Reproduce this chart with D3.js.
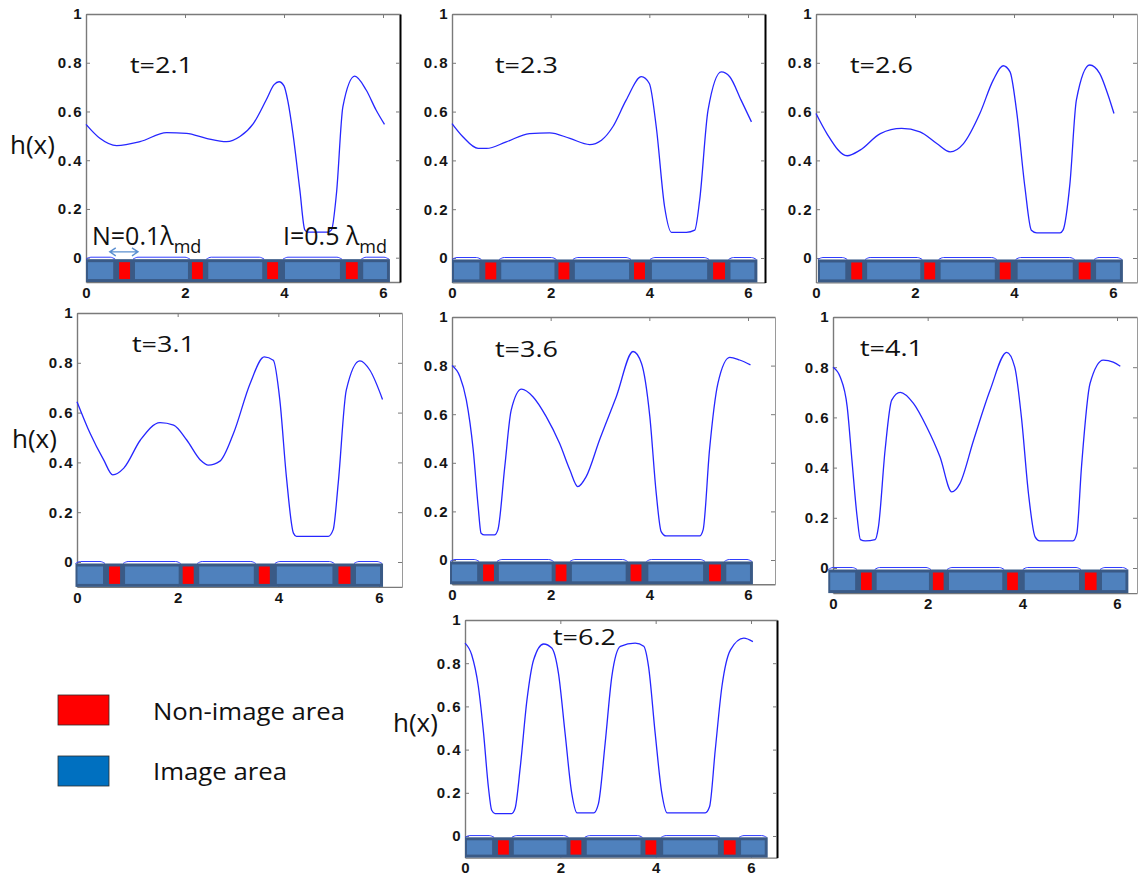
<!DOCTYPE html>
<html>
<head>
<meta charset="utf-8">
<script src="https://cdn.jsdelivr.net/npm/d3@7"></script>
<style>
  body { margin: 0; background: #fff; }
  svg { display: block; }
</style>
</head>
<body>
<svg id="fig" width="1139" height="877"></svg>
<script>
// ---- Film thickness profiles h(x) at successive times ----
const profile_t21 = [[0,0.547],[0.28,0.49],[0.62,0.46],[1.09,0.476],[1.63,0.513],[2.03,0.51],[2.43,0.49],[2.84,0.476],[3.11,0.497],[3.38,0.55],[3.64,0.647],[3.8,0.71],[3.9,0.722],[4.0,0.705],[4.08,0.64],[4.18,0.51],[4.32,0.278],[4.42,0.114],[4.48,0.105],[4.89,0.105],[4.96,0.114],[5.06,0.264],[5.19,0.62],[5.43,0.745],[5.66,0.688],[5.86,0.606],[6.03,0.547]];
const profile_t23 = [[0,0.551],[0.22,0.497],[0.53,0.449],[0.7,0.449],[1.1,0.476],[1.57,0.51],[1.98,0.513],[2.39,0.49],[2.79,0.465],[3.03,0.483],[3.26,0.538],[3.53,0.647],[3.84,0.743],[4.0,0.715],[4.14,0.538],[4.31,0.209],[4.45,0.105],[4.75,0.105],[4.92,0.114],[5.02,0.237],[5.19,0.606],[5.46,0.763],[5.63,0.743],[5.86,0.647],[6.07,0.558]];
const profile_t26 = [[0,0.592],[0.22,0.51],[0.63,0.419],[0.89,0.442],[1.3,0.51],[1.73,0.531],[2.1,0.517],[2.44,0.469],[2.71,0.435],[2.98,0.469],[3.31,0.592],[3.58,0.729],[3.78,0.788],[3.92,0.763],[4.05,0.606],[4.22,0.291],[4.35,0.114],[4.46,0.103],[4.93,0.103],[4.99,0.114],[5.13,0.305],[5.26,0.647],[5.53,0.791],[5.73,0.757],[5.9,0.668],[6.02,0.592]];
const profile_t31 = [[0,0.644],[0.26,0.517],[0.53,0.41],[0.71,0.35],[0.93,0.377],[1.26,0.49],[1.65,0.56],[1.92,0.55],[2.18,0.49],[2.45,0.41],[2.61,0.389],[2.84,0.405],[3.11,0.517],[3.44,0.717],[3.72,0.824],[3.9,0.81],[4.03,0.65],[4.16,0.343],[4.3,0.116],[4.36,0.103],[4.99,0.103],[5.09,0.13],[5.19,0.317],[5.35,0.69],[5.62,0.808],[5.82,0.77],[6.07,0.653]];
const profile_t36 = [[0,0.8],[0.16,0.755],[0.29,0.659],[0.43,0.453],[0.53,0.22],[0.59,0.11],[0.66,0.103],[0.86,0.103],[0.93,0.124],[1.07,0.384],[1.2,0.617],[1.41,0.703],[1.64,0.672],[1.91,0.59],[2.18,0.48],[2.39,0.37],[2.55,0.302],[2.72,0.343],[2.99,0.494],[3.33,0.672],[3.67,0.858],[3.84,0.81],[4.01,0.59],[4.14,0.274],[4.24,0.117],[4.34,0.099],[5.02,0.099],[5.09,0.124],[5.22,0.453],[5.39,0.727],[5.63,0.834],[5.83,0.823],[6.05,0.803]];
const profile_t41 = [[0,0.8],[0.15,0.762],[0.3,0.642],[0.4,0.43],[0.51,0.203],[0.58,0.113],[0.68,0.108],[0.89,0.113],[0.96,0.164],[1.1,0.469],[1.24,0.669],[1.42,0.7],[1.7,0.656],[1.98,0.562],[2.26,0.443],[2.51,0.303],[2.68,0.336],[2.97,0.509],[3.32,0.709],[3.67,0.859],[3.84,0.8],[3.98,0.602],[4.13,0.296],[4.27,0.124],[4.37,0.108],[5.07,0.108],[5.15,0.137],[5.25,0.403],[5.43,0.735],[5.71,0.828],[5.92,0.82],[6.07,0.804]];
const profile_t62 = [[0,0.893],[0.14,0.839],[0.28,0.692],[0.39,0.475],[0.49,0.228],[0.56,0.119],[0.63,0.104],[0.98,0.104],[1.05,0.127],[1.16,0.32],[1.3,0.63],[1.44,0.816],[1.65,0.889],[1.82,0.87],[1.96,0.754],[2.1,0.475],[2.24,0.197],[2.35,0.107],[2.7,0.107],[2.8,0.15],[2.94,0.429],[3.08,0.738],[3.26,0.878],[3.57,0.893],[3.75,0.878],[3.85,0.785],[3.99,0.475],[4.13,0.197],[4.24,0.107],[5.04,0.107],[5.13,0.135],[5.25,0.398],[5.39,0.692],[5.57,0.862],[5.85,0.916],[6.04,0.9]];

const timeLabels = ["t=2.1","t=2.3","t=2.6","t=3.1","t=3.6","t=4.1","t=6.2"];
const profiles = [profile_t21, profile_t23, profile_t26, profile_t31, profile_t36, profile_t41, profile_t62];

// ---- Axis ticks ----
const xTicks = [0, 2, 4, 6];
const yTicks = [0, 0.2, 0.4, 0.6, 0.8, 1];

// ---- Patterned substrate (x in substrate units) ----
const substrateLength = 6.14;
const imageAreas    = [[0.04,0.55],[0.99,2.06],[2.47,3.56],[4.02,5.13],[5.6,6.08]];
const nonImageAreas = [[0.67,0.89],[2.14,2.36],[3.66,3.88],[5.25,5.49]];
const substrateTop = -0.006;
const filmLevel = 0.002;

// ---- Legend ----
const legendLabels = ["Non-image area", "Image area"];
const legendColors = ["#ff0000", "#0070c0"];

// ---- Annotation text ----
const yLabel = "h(x)";
const nAnnot = ["N=0.1λ", "md"];
const iAnnot = ["I=0.5 λ", "md"];
const nArrowSpan = [0.48, 1.05];
const nArrowLevel = 0.024;

// ---- Panel placement (pixels) ----
const panels = [
  {x0: 86,  x6: 383,  y1: 14,  y0: 257.7, right: 400,  bar: [0, 6.14],    tPos: [130, 73],  hPos: [10, 154],  rc: "#000", rw: 2},
  {x0: 452, x6: 748,  y1: 14,  y0: 258,   right: 765,  bar: [0, 6.19],    tPos: [495, 73],  hPos: null,       rc: "#000", rw: 2},
  {x0: 816, x6: 1113, y1: 14,  y0: 258,   right: 1137, bar: [0.04, 6.2],  tPos: [850, 73],  hPos: null,       rc: "#9a9a9a", rw: 1},
  {x0: 77,  x6: 379,  y1: 313, y0: 562,   right: 402,  bar: [-0.03, 6.08],tPos: [132, 352], hPos: [12, 448],  rc: "#9a9a9a", rw: 1},
  {x0: 452, x6: 748,  y1: 317, y0: 560,   right: 775,  bar: [-0.04, 6.1], tPos: [495, 357], hPos: null,       rc: "#9a9a9a", rw: 1},
  {x0: 833, x6: 1117, y1: 317, y0: 568,   right: 1137, bar: [-0.1, 6.24], tPos: [860, 356], hPos: null,       rc: "#9a9a9a", rw: 1},
  {x0: 465, x6: 751,  y1: 620, y0: 836,   right: 777,  bar: [0, 6.35],    tPos: [553, 645], hPos: [393, 732], rc: "#000", rw: 2}
];

const FONT_TXT = "'Open Sans', 'DejaVu Sans', sans-serif";
const FONT_TICK = "'Liberation Sans', Arial, sans-serif";
const svg = d3.select("#fig");
const fmt = d3.format("~g");

panels.forEach((p, i) => {
  const unitX = (p.x6 - p.x0) / 6;
  const xMax = (p.right - p.x0) / unitX;
  const x = d3.scaleLinear().domain([0, xMax]).range([p.x0, p.right]);
  const unitY = p.y0 - p.y1;
  const bottom = p.y0 + 0.1 * unitY;
  const y = d3.scaleLinear().domain([-0.1, 1]).range([bottom, p.y1]);
  const g = svg.append("g").attr("class", "panel");

  // frame and ticks (ticks point inward)
  const axL = g.append("g").attr("transform", `translate(${p.x0},0)`)
    .call(d3.axisLeft(y).tickValues(yTicks).tickSizeInner(-4).tickSizeOuter(0).tickPadding(3).tickFormat(fmt));
  const axB = g.append("g").attr("transform", `translate(0,${bottom})`)
    .call(d3.axisBottom(x).tickValues(xTicks).tickSizeInner(-4).tickSizeOuter(0).tickPadding(5).tickFormat(fmt));
  const axT = g.append("g").attr("transform", `translate(0,${p.y1})`)
    .call(d3.axisTop(x).tickValues(xTicks).tickSizeInner(-4).tickSizeOuter(0).tickFormat(""));
  const axR = g.append("g").attr("transform", `translate(${p.right},0)`)
    .call(d3.axisRight(y).tickValues(yTicks).tickSizeInner(-4).tickSizeOuter(0).tickFormat(""));
  [axL, axB, axT, axR].forEach(a => {
    a.select(".domain").attr("stroke", "#7a7a7a").attr("stroke-width", 1.4);
    a.selectAll(".tick line").attr("stroke", "#7a7a7a");
    a.selectAll("text").attr("font-family", FONT_TICK).attr("font-size", 15)
      .attr("font-weight", "bold").attr("fill", "#151515");
  });
  axL.selectAll("text").attr("letter-spacing", 1.5);
  axR.select(".domain").attr("stroke", p.rc).attr("stroke-width", p.rw);

  // h(x) profile
  g.append("path").datum(profiles[i])
    .attr("d", d3.line().x(d => x(d[0])).y(d => y(d[1])).curve(d3.curveMonotoneX))
    .attr("fill", "none").attr("stroke", "#2626ff").attr("stroke-width", 1.3);

  // substrate: maps substrate units onto this panel's x scale
  const sx = d3.scaleLinear().domain([0, substrateLength]).range([x(p.bar[0]), x(p.bar[1])]);
  const barTop = y(substrateTop);

  // thin film resting on each image area
  imageAreas.forEach(([a, b]) => {
    const pts = [[a - 0.04, substrateTop], [a + 0.06, filmLevel], [b - 0.06, filmLevel], [b + 0.04, substrateTop]];
    g.append("path").datum(pts)
      .attr("d", d3.line().x(d => sx(d[0])).y(d => y(d[1])).curve(d3.curveMonotoneX))
      .attr("fill", "none").attr("stroke", "#2f3cff").attr("stroke-width", 1);
  });

  g.append("rect")
    .attr("x", sx(0)).attr("y", barTop)
    .attr("width", sx(substrateLength) - sx(0)).attr("height", bottom - barTop)
    .attr("fill", "#3a5a86");
  g.selectAll(null).data(imageAreas).join("rect")
    .attr("x", d => sx(d[0])).attr("y", barTop + 3)
    .attr("width", d => sx(d[1]) - sx(d[0])).attr("height", bottom - barTop - 6)
    .attr("fill", "#4f81bd");
  g.selectAll(null).data(nonImageAreas).join("rect")
    .attr("x", d => sx(d[0])).attr("y", barTop + 3)
    .attr("width", d => sx(d[1]) - sx(d[0])).attr("height", bottom - barTop - 6)
    .attr("fill", "#ff0000");

  // time label
  g.append("text").attr("x", p.tPos[0]).attr("y", p.tPos[1])
    .attr("font-family", FONT_TXT).attr("font-size", 21).attr("fill", "#111")
    .attr("textLength", 63).attr("lengthAdjust", "spacingAndGlyphs")
    .text(timeLabels[i]);

  if (p.hPos) {
    g.append("text").attr("x", p.hPos[0]).attr("y", p.hPos[1])
      .attr("font-family", FONT_TXT).attr("font-size", 26).attr("fill", "#111")
      .text(yLabel);
  }

  if (i === 0) {
    const addSub = (xPos, pair) => {
      const t = g.append("text").attr("x", xPos).attr("y", 245)
        .attr("font-family", FONT_TXT).attr("font-size", 25).attr("fill", "#111");
      t.append("tspan").text(pair[0]);
      t.append("tspan").attr("font-size", 18).attr("dy", 8).text(pair[1]);
    };
    addSub(92, nAnnot);
    addSub(283, iAnnot);
    const ax0 = x(nArrowSpan[0]), ax1 = x(nArrowSpan[1]), ay = y(nArrowLevel);
    g.append("path")
      .attr("d", `M${ax0},${ay}L${ax1},${ay}M${ax0 + 6},${ay - 4}L${ax0},${ay}L${ax0 + 6},${ay + 4}M${ax1 - 6},${ay - 4}L${ax1},${ay}L${ax1 - 6},${ay + 4}`)
      .attr("fill", "none").attr("stroke", "#5b8fd0").attr("stroke-width", 1.4);
  }
});

// legend
const legend = svg.append("g");
legendLabels.forEach((lab, k) => {
  legend.append("rect").attr("x", 58).attr("y", 695 + k * 61).attr("width", 51).attr("height", 30)
    .attr("fill", legendColors[k]).attr("stroke", "#2b2b2b").attr("stroke-width", 0.8);
  legend.append("text").attr("x", 153).attr("y", 720 + k * 60)
    .attr("font-family", FONT_TXT).attr("font-size", 24).attr("fill", "#111")
    .attr("textLength", k === 0 ? 192 : 134).attr("lengthAdjust", "spacingAndGlyphs")
    .text(lab);
});
</script>
</body>
</html>
